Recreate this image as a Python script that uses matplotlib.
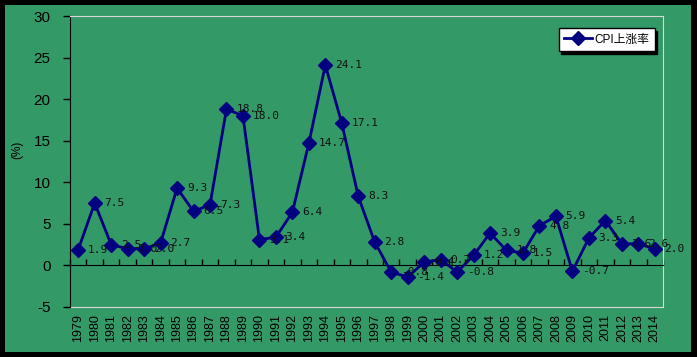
import matplotlib.pyplot as plt
from matplotlib.patches import Rectangle

plt.rcParams['font.family'] = ['Liberation Sans', 'Noto Sans CJK SC']

years = [str(y) for y in range(1979, 2015)]
cpi = [1.9, 7.5, 2.5, 2.0, 2.0, 2.7, 9.3, 6.5, 7.3, 18.8, 18.0, 3.1, 3.4, 6.4,
       14.7, 24.1, 17.1, 8.3, 2.8, -0.8, -1.4, 0.4, 0.7, -0.8, 1.2, 3.9, 1.8,
       1.5, 4.8, 5.9, -0.7, 3.3, 5.4, 2.6, 2.6, 2.0]
yticks = [-5, 0, 5, 10, 15, 20, 25, 30]

green = '#339966'
navy = '#000080'
light = '#d8d8d8'

fig = plt.figure(figsize=(6.97, 3.57), dpi=100, facecolor='black')
# green chart area inside the black frame
fig.patches.append(Rectangle((5 / 697, 5 / 357), 686 / 697, 347 / 357,
                             transform=fig.transFigure, facecolor=green,
                             edgecolor='none', zorder=-10))

ax = fig.add_axes([70 / 697, 1 - 307 / 357, 593 / 697, 291 / 357])
ax.set_facecolor(green)
ax.set_zorder(1)

x = list(range(len(years)))
ax.plot(x, cpi, color=navy, lw=2, marker='D', markersize=7.5,
        markerfacecolor=navy, markeredgecolor=navy, label='CPI上涨率', zorder=3)

for xi, v in zip(x, cpi):
    ax.annotate(f'{v:.1f}', (xi, v), xytext=(7, 0), textcoords='offset points',
                ha='left', va='center', fontsize=8, color='#111111', zorder=4,
                family=['DejaVu Sans Mono', 'Noto Sans CJK SC'])

ax.set_xlim(-0.5, len(years) - 0.5)
ax.set_ylim(-5, 30)
ax.set_yticks(yticks)
ax.set_yticklabels([str(t) for t in yticks], fontsize=11, color='black')
ax.tick_params(axis='y', direction='out', length=5, width=1, color='black', pad=9)
ax.set_ylabel('(%)', fontsize=8.5, color='black')
ax.yaxis.set_label_coords(-0.078, 0.54)

# category axis crosses at zero, ticks between categories
ax.spines['bottom'].set_position(('data', 0))
ax.spines['bottom'].set_color('black')
ax.spines['left'].set_color('black')
ax.spines['top'].set_color(light)
ax.spines['right'].set_color(light)
ax.set_xticks([i - 0.5 for i in range(len(years) + 1)])
ax.set_xticklabels([])
ax.tick_params(axis='x', direction='in', length=4, width=1, color='black')

# year labels sit below the plot area
sec = ax.secondary_xaxis('bottom', functions=(lambda v: v, lambda v: v))
sec.set_xticks(x)
sec.set_xticklabels(years, rotation=90, fontsize=9, color='black')
sec.tick_params(length=0, pad=5)
sec.spines['bottom'].set_color(light)

leg = ax.legend(loc='upper right', bbox_to_anchor=(0.986, 0.958), fontsize=8.5,
                frameon=True, fancybox=False, shadow={'color': 'black', 'alpha': 1},
                borderpad=0.45, handlelength=2.4, handletextpad=0.2,
                borderaxespad=0)
leg.get_frame().set_edgecolor('black')
leg.get_frame().set_facecolor('white')
leg.get_frame().set_linewidth(1)

fig.savefig('out.png', dpi=100, facecolor='black')
